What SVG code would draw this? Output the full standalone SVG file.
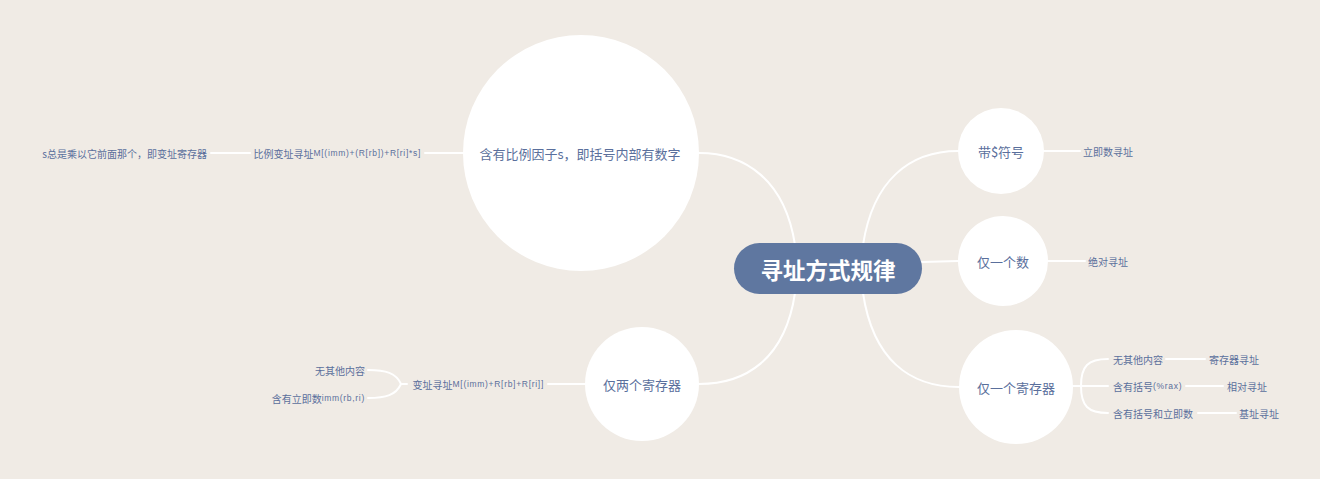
<svg xmlns="http://www.w3.org/2000/svg" width="1320" height="479" viewBox="0 0 1320 479">
<style>
.bg{fill:#f0ebe5}
.c{fill:#ffffff}
.ln{fill:none;stroke:#ffffff;stroke-width:2;stroke-linecap:round}
.t{font-family:"Noto Sans CJK SC","Liberation Sans",sans-serif;fill:#5a6f9c}
.n{font-size:13px;text-anchor:middle;dominant-baseline:central}
.s{font-size:10px;dominant-baseline:central}
.f{font-size:8.5px;font-family:"Liberation Sans",sans-serif;letter-spacing:0.7px}
.r{text-anchor:end}
.root{font-family:"Noto Sans CJK SC","Liberation Sans",sans-serif;font-size:22.5px;font-weight:bold;fill:#ffffff;text-anchor:middle;dominant-baseline:central}
</style>
<rect class="bg" x="0" y="0" width="1320" height="479"/>
<g id="connectors">
<path class="ln" d="M795 245 C785 180 745 153 699 153"/>
<path class="ln" d="M863 245 C873 180 910 151 958 151"/>
<path class="ln" d="M922 262 L958 261"/>
<path class="ln" d="M863 293 C873 360 910 387 959 387"/>
<path class="ln" d="M795 293 C785 360 745 384 699 384"/>
<path class="ln" d="M1044 151 L1080 151"/>
<path class="ln" d="M1048 261 L1085 261"/>
<path class="ln" d="M1073 386 L1081 386"/>
<path class="ln" d="M1081 386 C1081 366 1088 359 1108 359"/>
<path class="ln" d="M1081 386 L1108 386"/>
<path class="ln" d="M1081 386 C1081 406 1088 413 1108 413"/>
<path class="ln" d="M1166 359 L1205 359"/>
<path class="ln" d="M1186 386 L1223 386"/>
<path class="ln" d="M1198 413 L1236 413"/>
<path class="ln" d="M463 153 L425 153"/>
<path class="ln" d="M250 153 L211 153"/>
<path class="ln" d="M585 384 L548 384"/>
<path class="ln" d="M407 384 L401 384"/>
<path class="ln" d="M401 384 C396 373 386 370 368 370"/>
<path class="ln" d="M401 384 C396 395 386 398 368 398"/>
</g>
<g id="root">
<rect x="734" y="243" width="188" height="51" rx="25.5" fill="#5f77a0"/>
<text class="root" x="828" y="268.5">寻址方式规律</text>
</g>
<g id="n-scale">
<circle class="c" cx="581" cy="153" r="118"/>
<text class="t n" x="580" y="153">含有比例因子s，即括号内部有数字</text>
</g>
<g id="n-dollar">
<circle class="c" cx="1001" cy="151" r="43"/>
<text class="t n" x="1001" y="151">带$符号</text>
</g>
<g id="n-onenum">
<circle class="c" cx="1003" cy="261" r="45"/>
<text class="t n" x="1003" y="261">仅一个数</text>
</g>
<g id="n-onereg">
<circle class="c" cx="1016" cy="387" r="57"/>
<text class="t n" x="1016" y="387">仅一个寄存器</text>
</g>
<g id="n-tworeg">
<circle class="c" cx="642" cy="384" r="57"/>
<text class="t n" x="642" y="384">仅两个寄存器</text>
</g>
<g id="l-imm"><text class="t s" x="1083" y="151">立即数寻址</text></g>
<g id="l-abs"><text class="t s" x="1088" y="261">绝对寻址</text></g>
<g id="l-none-r"><text class="t s" x="1113" y="359">无其他内容</text></g>
<g id="l-regaddr"><text class="t s" x="1209" y="359">寄存器寻址</text></g>
<g id="l-paren"><text class="t s" x="1113" y="386">含有括号<tspan class="f">(%rax)</tspan></text></g>
<g id="l-rel"><text class="t s" x="1227" y="386">相对寻址</text></g>
<g id="l-parenimm"><text class="t s" x="1113" y="413">含有括号和立即数</text></g>
<g id="l-base"><text class="t s" x="1239" y="413">基址寻址</text></g>
<g id="l-scaleidx"><text class="t s r" x="421" y="153">比例变址寻址<tspan class="f">M[(imm)+(R[rb])+R[ri]*s]</tspan></text></g>
<g id="l-snote"><text class="t s r" x="207" y="153">s总是乘以它前面那个，即变址寄存器</text></g>
<g id="l-idx"><text class="t s r" x="544" y="384">变址寻址<tspan class="f">M[(imm)+R[rb]+R[ri]]</tspan></text></g>
<g id="l-none-l"><text class="t s r" x="365" y="370">无其他内容</text></g>
<g id="l-hasimm"><text class="t s r" x="365" y="398">含有立即数<tspan class="f">imm(rb,ri)</tspan></text></g>
</svg>
